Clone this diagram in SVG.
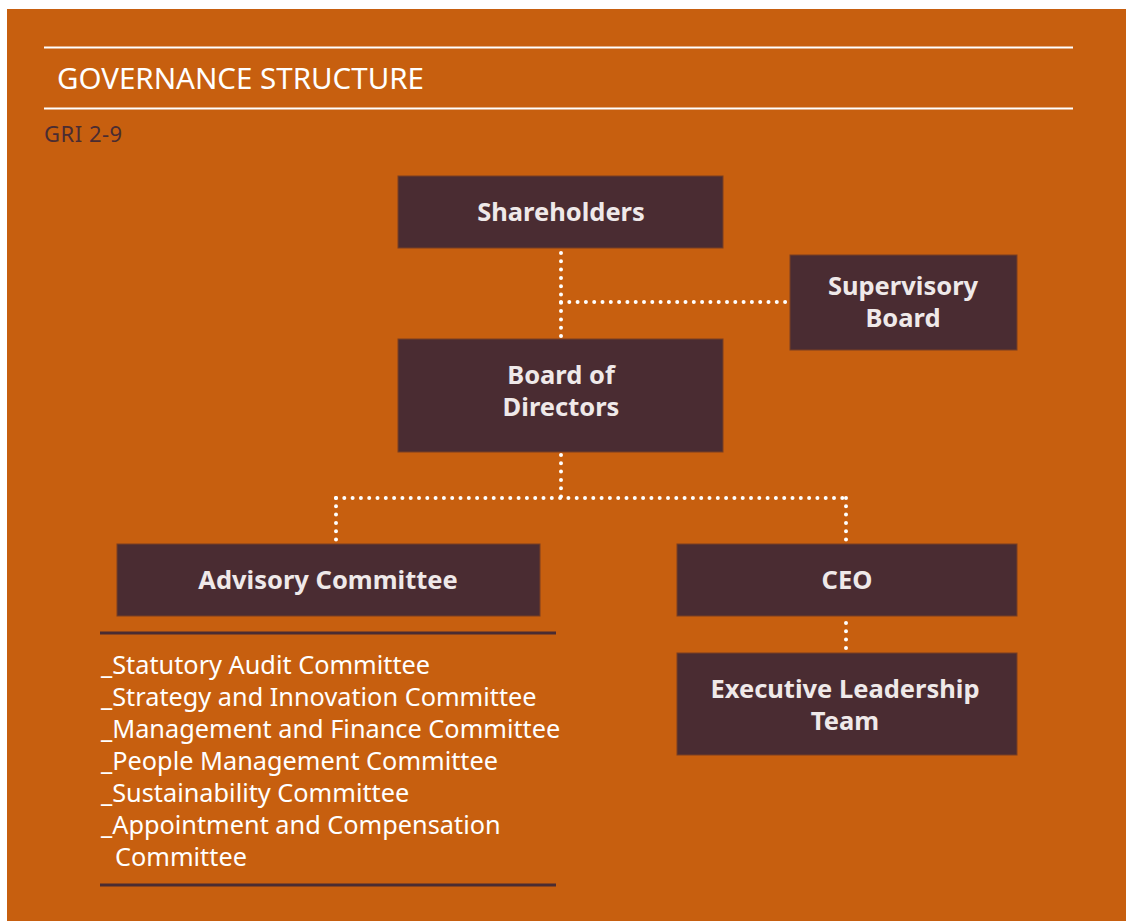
<svg xmlns="http://www.w3.org/2000/svg" width="1126" height="921" viewBox="0 0 1126 921">
  <style>
    .box { fill: #4a2c32; stroke: #7a3f22; stroke-width: 1; }
    .lbl { font-family: "Noto Sans", "Open Sans", sans-serif; font-weight: bold; font-size: 25.5px; fill: #efe9e9; text-anchor: middle; }
    .item { font-family: "Noto Sans", "Open Sans", sans-serif; font-size: 25.3px; fill: #ffffff; }
    .dots { fill: none; stroke: #ffffff; stroke-width: 4; stroke-linecap: round; stroke-dasharray: 0 8.3; }
    .rule { stroke: #ffffff; stroke-width: 2; }
    .rule-dark { stroke: #4a2c32; stroke-width: 3; }
  </style>

  <!-- page background -->
  <rect x="0" y="0" width="1126" height="921" fill="#ffffff"/>
  <rect x="7" y="9" width="1119" height="912" fill="#c75f0f"/>

  <!-- heading -->
  <line class="rule" x1="44" y1="47.5" x2="1073" y2="47.5"/>
  <text x="57" y="89" font-family="Noto Sans, Open Sans, sans-serif" font-size="29.5" fill="#ffffff">GOVERNANCE STRUCTURE</text>
  <line class="rule" x1="44" y1="108.5" x2="1073" y2="108.5"/>
  <text x="44" y="142" font-family="Noto Sans, Open Sans, sans-serif" font-size="22" letter-spacing="0.5" fill="#4a2c32">GRI 2-9</text>

  <!-- connectors -->
  <g id="connectors">
    <path class="dots" d="M561 253 V337"/>
    <path class="dots" d="M561 302 H787"/>
    <path class="dots" d="M561 455 V498"/>
    <path class="dots" d="M336 498 H846"/>
    <path class="dots" d="M336 498 V541"/>
    <path class="dots" d="M846 498 V541"/>
    <path class="dots" d="M846 623 V649"/>
  </g>

  <g id="shareholders">
    <rect class="box" x="398" y="176" width="325" height="72"/>
    <text class="lbl" x="561" y="221">Shareholders</text>
  </g>

  <g id="supervisory-board">
    <rect class="box" x="790" y="255" width="227" height="95"/>
    <text class="lbl" x="903" y="295">Supervisory</text>
    <text class="lbl" x="903" y="327">Board</text>
  </g>

  <g id="board-of-directors">
    <rect class="box" x="398" y="339" width="325" height="113"/>
    <text class="lbl" x="561" y="384">Board of</text>
    <text class="lbl" x="561" y="416">Directors</text>
  </g>

  <g id="advisory-committee">
    <rect class="box" x="117" y="544" width="423" height="72"/>
    <text class="lbl" x="328" y="589">Advisory Committee</text>
  </g>

  <g id="ceo">
    <rect class="box" x="677" y="544" width="340" height="72"/>
    <text class="lbl" x="847" y="589">CEO</text>
  </g>

  <g id="executive-leadership-team">
    <rect class="box" x="677" y="653" width="340" height="102"/>
    <text class="lbl" x="845" y="698">Executive Leadership</text>
    <text class="lbl" x="845" y="730">Team</text>
  </g>

  <!-- committees under the advisory committee -->
  <g id="committee-list">
    <line class="rule-dark" x1="100" y1="633" x2="556" y2="633"/>
    <text class="item" x="101" y="674">_Statutory Audit Committee</text>
    <text class="item" x="101" y="706">_Strategy and Innovation Committee</text>
    <text class="item" x="101" y="738">_Management and Finance Committee</text>
    <text class="item" x="101" y="770">_People Management Committee</text>
    <text class="item" x="101" y="802">_Sustainability Committee</text>
    <text class="item" x="101" y="834">_Appointment and Compensation</text>
    <text class="item" x="115" y="866">Committee</text>
    <line class="rule-dark" x1="100" y1="885" x2="556" y2="885"/>
  </g>
</svg>
